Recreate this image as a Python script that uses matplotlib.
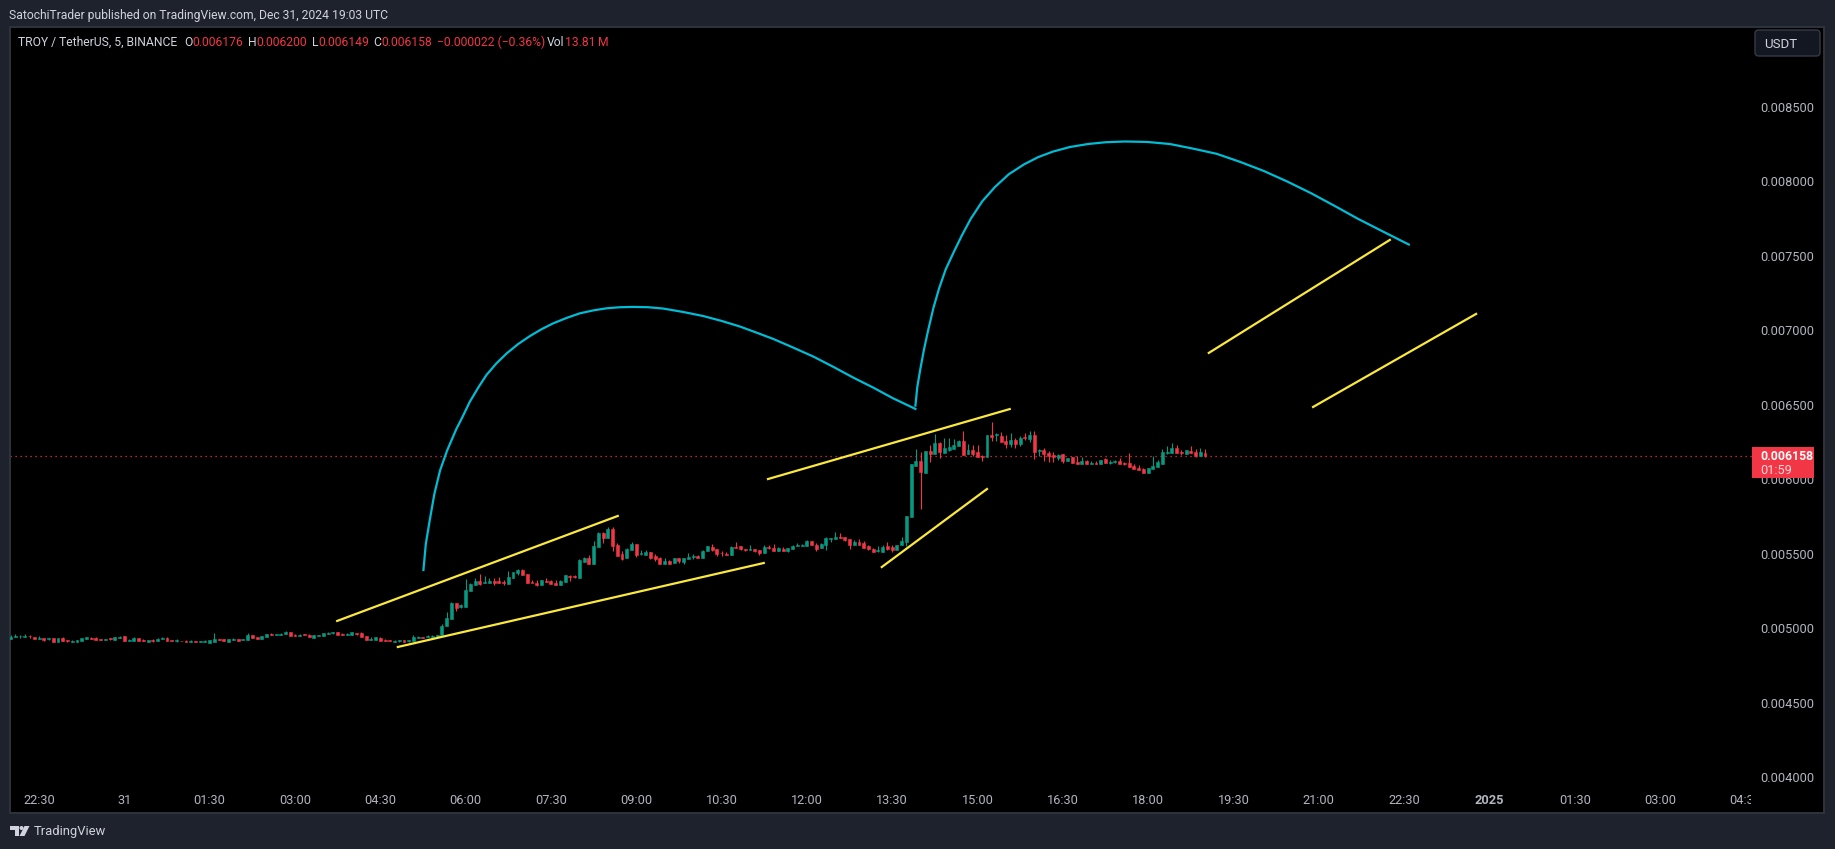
import numpy as np
import matplotlib
matplotlib.use("Agg")
import matplotlib.pyplot as plt
from matplotlib.patches import Rectangle, FancyBboxPatch, Polygon, Ellipse
from matplotlib.transforms import Bbox

# 1. DATA (5 min candles, prices in millionths of USDT)
opens = [
    4929,4942,4945,4942,4949,4940,4929,4931,4926,4933,
    4908,4931,4920,4908,4908,4913,4926,4933,4933,4926,
    4922,4933,4920,4935,4947,4913,4913,4933,4920,4908,
    4920,4913,4926,4933,4920,4913,4915,4915,4908,4913,
    4908,4908,4900,4906,4924,4926,4906,4920,4926,4922,
    4920,4953,4940,4926,4940,4960,4953,4953,4960,4973,
    4953,4947,4958,4953,4933,4949,4947,4960,4967,4973,
    4960,4953,4953,4967,4967,4947,4920,4920,4933,4920,
    4920,4908,4915,4920,4915,4913,4935,4940,4942,4942,
    4937,4951,5014,5061,5168,5143,5141,5249,5289,5316,
    5302,5302,5314,5316,5311,5296,5336,5370,5390,5363,
    5311,5302,5289,5316,5316,5302,5289,5309,5350,5352,
    5336,5444,5470,5430,5544,5638,5605,5665,5558,5497,
    5470,5524,5564,5495,5491,5511,5484,5470,5430,5450,
    5437,5470,5444,5464,5475,5482,5470,5517,5544,5531,
    5506,5497,5491,5544,5551,5529,5524,5531,5524,5504,
    5544,5538,5517,5531,5517,5531,5551,5551,5551,5585,
    5558,5538,5558,5598,5598,5611,5611,5598,5558,5578,
    5571,5551,5531,5517,5511,5551,5544,5524,5558,5578,
    5748,6088,6121,6041,6189,6169,6242,6175,6195,6204,
    6222,6256,6169,6195,6182,6155,6148,6296,6294,6289,
    6256,6236,6263,6236,6280,6269,6296,6191,6195,6175,
    6162,6142,6169,6121,6148,6115,6101,6121,6101,6108,
    6101,6135,6112,6115,6121,6110,6108,6088,6075,6068,
    6041,6068,6081,6101,6175,6175,6209,6182,6169,6189,
    6182,6155,6176]
highs = [
    4951,4960,4955,4960,4955,4940,4947,4931,4931,4933,
    4933,4940,4920,4920,4920,4933,4940,4940,4940,4926,
    4926,4933,4940,4949,4947,4929,4940,4933,4926,4920,
    4926,4933,4940,4940,4920,4926,4915,4920,4922,4913,
    4913,4922,4920,4967,4924,4926,4926,4933,4926,4926,
    4967,4953,4940,4947,4960,4967,4958,4967,4980,4973,
    4960,4960,4958,4960,4953,4953,4967,4973,4971,4973,
    4967,4967,4973,4967,4973,4947,4940,4940,4940,4926,
    4920,4922,4920,4920,4920,4953,4949,4940,4953,4953,
    4953,5027,5108,5175,5168,5164,5329,5302,5336,5363,
    5350,5336,5336,5343,5323,5383,5376,5397,5397,5363,
    5323,5323,5323,5336,5323,5323,5323,5356,5356,5356,
    5464,5477,5491,5585,5645,5645,5679,5679,5571,5517,
    5538,5578,5564,5524,5524,5511,5497,5477,5470,5457,
    5470,5470,5470,5504,5497,5491,5524,5551,5564,5531,
    5515,5511,5551,5578,5551,5529,5558,5531,5524,5558,
    5558,5564,5544,5544,5535,5558,5571,5564,5591,5585,
    5571,5571,5611,5605,5645,5638,5611,5598,5591,5598,
    5585,5558,5538,5551,5558,5578,5558,5558,5611,5753,
    6101,6202,6182,6189,6229,6303,6249,6276,6276,6269,
    6263,6323,6236,6229,6229,6162,6296,6383,6310,6316,
    6296,6310,6276,6289,6310,6323,6323,6202,6209,6189,
    6182,6169,6169,6142,6148,6155,6148,6128,6121,6121,
    6128,6142,6128,6128,6142,6117,6175,6101,6095,6075,
    6075,6155,6128,6202,6222,6243,6229,6195,6195,6222,
    6202,6209,6200]
lows = [
    4929,4942,4935,4942,4935,4929,4929,4913,4920,4908,
    4908,4913,4906,4908,4908,4913,4926,4926,4920,4922,
    4922,4920,4920,4935,4913,4913,4913,4913,4913,4908,
    4906,4913,4926,4913,4913,4906,4913,4908,4908,4908,
    4908,4908,4900,4906,4920,4913,4906,4920,4913,4922,
    4920,4933,4926,4926,4940,4953,4953,4953,4960,4947,
    4947,4947,4953,4940,4933,4949,4947,4960,4960,4953,
    4953,4953,4953,4951,4940,4920,4920,4920,4913,4913,
    4913,4908,4906,4906,4906,4913,4935,4935,4942,4942,
    4937,4951,5014,5061,5114,5135,5141,5249,5289,5289,
    5302,5302,5289,5302,5289,5296,5336,5356,5356,5302,
    5302,5282,5289,5309,5296,5289,5289,5309,5316,5336,
    5336,5444,5430,5430,5544,5571,5605,5517,5484,5457,
    5470,5524,5477,5491,5491,5464,5450,5430,5430,5430,
    5437,5437,5430,5464,5464,5470,5470,5517,5517,5484,
    5486,5493,5491,5538,5524,5517,5524,5511,5491,5504,
    5529,5517,5517,5517,5511,5531,5551,5551,5551,5558,
    5517,5538,5524,5580,5598,5605,5585,5531,5558,5558,
    5538,5524,5511,5511,5511,5524,5511,5524,5558,5551,
    5748,6088,5799,6041,6115,6169,6142,6175,6189,6204,
    6222,6162,6169,6155,6148,6121,6148,6256,6256,6249,
    6209,6215,6209,6222,6263,6249,6135,6155,6121,6115,
    6115,6128,6108,6121,6108,6101,6101,6101,6101,6101,
    6101,6108,6101,6108,6101,6095,6081,6068,6061,6041,
    6041,6068,6081,6101,6169,6175,6175,6162,6169,6175,
    6148,6155,6149]
closes = [
    4942,4947,4949,4947,4945,4929,4933,4922,4931,4908,
    4933,4913,4913,4913,4920,4933,4940,4926,4920,4922,
    4926,4926,4940,4942,4913,4920,4933,4913,4913,4920,
    4913,4926,4933,4913,4913,4920,4913,4908,4915,4908,
    4913,4915,4920,4926,4920,4913,4926,4926,4913,4926,
    4953,4933,4926,4947,4960,4953,4958,4960,4973,4947,
    4947,4953,4953,4940,4953,4953,4967,4967,4971,4953,
    4953,4960,4973,4960,4940,4920,4926,4940,4913,4913,
    4913,4915,4920,4906,4920,4940,4940,4935,4949,4949,
    4953,5014,5067,5168,5135,5152,5255,5296,5316,5296,
    5309,5316,5305,5302,5302,5343,5376,5390,5356,5302,
    5302,5289,5323,5309,5296,5289,5316,5356,5343,5343,
    5457,5470,5430,5551,5638,5605,5665,5551,5484,5464,
    5531,5564,5491,5502,5511,5470,5464,5430,5450,5430,
    5470,5450,5470,5477,5482,5470,5517,5551,5524,5497,
    5502,5493,5544,5538,5531,5524,5531,5517,5504,5544,
    5535,5517,5538,5517,5535,5551,5558,5558,5585,5558,
    5531,5564,5605,5605,5611,5605,5591,5558,5578,5558,
    5538,5531,5511,5524,5544,5531,5524,5558,5585,5753,
    6101,6121,6048,6189,6169,6242,6182,6209,6215,6229,
    6256,6162,6195,6169,6148,6151,6296,6283,6301,6249,
    6236,6263,6236,6276,6274,6296,6182,6198,6169,6155,
    6151,6162,6121,6142,6108,6101,6121,6101,6106,6101,
    6128,6108,6117,6119,6101,6101,6081,6068,6061,6041,
    6075,6088,6115,6182,6182,6209,6175,6175,6195,6175,
    6155,6182,6158]

# time ticks sit every 18 bars
time_ticks = [6,24,42,60,78,96,114,132,150,168,186,204,222,240,258,276,294,312,330,348,366]
time_labels = ["22:30","31","01:30","03:00","04:30","06:00","07:30","09:00","10:30","12:00",
               "13:30","15:00","16:30","18:00","19:30","21:00","22:30","2025","01:30","03:00","04:30"]
price_ticks = [4000,4500,5000,5500,6000,6500,7000,7500,8000,8500]

# Drawings on the chart: bar number, price
trend_lines = [
    ([68.9,128.1],[5048,5753]),
    ([81.7,158.9],[4873,5437]),
    ([159.8,210.8],[6001,6471]),
    ([183.8,206.0],[5410,5934]),
    ([252.8,291.0],[6848,7607]),
    ([274.8,309.2],[6485,7110]),
]
arc1_bars = [87.1,87.6,88.4,89.4,90.6,92.1,94.0,95.2,96.9,98.7,100.4,102.5,104.7,107.1,109.6,112.0,
             114.5,117.3,120.1,123.0,125.8,128.6,131.4,134.5,137.7,141.9,146.1,150.0,153.9,157.4,160.9,165.1,
             169.4,173.6,177.8,182.0,186.2,190.9]
arc1_prices = [5390,5565,5719,5900,6058,6193,6334,6409,6521,6617,6700,6778,6846,6908,6962,7007,
               7047,7083,7114,7134,7148,7155,7157,7155,7146,7123,7096,7063,7025,6984,6942,6884,
               6823,6754,6682,6615,6543,6472]
arc2_bars = [190.9,191.3,191.9,192.7,193.6,194.7,195.9,197.3,199.0,200.7,202.6,205.0,207.7,210.6,213.8,216.8,
             219.9,223.5,227.3,231.0,235.1,239.8,244.6,249.5,254.5,259.5,264.4,269.3,274.3,279.2,284.2,289.5,295.0]
arc2_prices = [6494,6620,6733,6870,7002,7150,7282,7410,7526,7637,7750,7866,7963,8048,8114,8163,
               8200,8231,8251,8263,8268,8265,8251,8220,8185,8130,8070,8000,7922,7838,7750,7664,7576]

last_price = 6158

# 2. STYLE
W, H = 1835, 849
BG = '#1e222d'
BORDER = '#2f333e'
GREEN = '#089981'
RED = '#f23645'
TEXT = '#d1d4dc'
AXTEXT = '#b2b5be'
YELLOW = '#fbe83c'
CYAN = '#00bcd4'

plt.rcParams['font.family'] = 'Roboto'

def fx(px):
    return px / W

def fy(py):
    return 1 - py / H

# 3. FIGURE
fig = plt.figure(figsize=(W / 100, H / 100), dpi=100, facecolor=BG)
ax = fig.add_axes([fx(10), fy(813), fx(1824 - 10), (813 - 27) / H], facecolor='black')
for s in ax.spines.values():
    s.set_color(BORDER)
    s.set_linewidth(1.4)

ax.set_xlim(-0.13, 382.6)
ax.set_ylim(3758, 9037)

# candles
o = np.array(opens)
h = np.array(highs)
l = np.array(lows)
c = np.array(closes)
bars = np.arange(len(o))
colors = [GREEN if cl >= op else RED for op, cl in zip(o, c)]
ax.vlines(bars, l, h, colors=colors, linewidth=0.8, zorder=3)
ax.bar(bars, np.abs(c - o), bottom=np.minimum(o, c), width=0.62, color=colors,
       edgecolor=colors, linewidth=0.4, zorder=3)

# last price line
ax.axhline(last_price, xmax=(1752 - 10) / 1814, color=RED, lw=0.9, ls=(0, (1, 3)), zorder=2)

# drawings
for xs, ys in trend_lines:
    ax.plot(xs, ys, color=YELLOW, lw=1.6, zorder=5)
ax.plot(arc1_bars, arc1_prices, color=CYAN, lw=1.6, zorder=5)
ax.plot(arc2_bars, arc2_prices, color=CYAN, lw=1.6, zorder=5)

# axes labels live inside the pane
ax.yaxis.tick_right()
ax.set_yticks(price_ticks)
ax.set_yticklabels([f"{p / 1e6:.6f}" for p in price_ticks])
ax.tick_params(axis='y', length=0, pad=-46, labelsize=9.2, labelcolor=AXTEXT)
ax.set_xticks(time_ticks)
ax.set_xticklabels(time_labels)
ax.tick_params(axis='x', length=0, pad=-14, labelsize=9.2, labelcolor=AXTEXT)
for lab in ax.get_xticklabels():
    if lab.get_text() == "2025":
        lab.set_fontweight('bold')
    lab.set_clip_box(Bbox([[0, 0], [1751, H]]))
    lab.set_clip_on(True)

# header
fig.text(fx(9), fy(15), "SatochiTrader published on TradingView.com, Dec 31, 2024 19:03 UTC",
         color=TEXT, fontsize=8.7, va='center')

legend_bits = [
    (18, "TROY / TetherUS, 5, BINANCE", TEXT),
    (184, "O", TEXT), (192.5, "0.006176", RED),
    (248, "H", TEXT), (256, "0.006200", RED),
    (312, "L", TEXT), (318, "0.006149", RED),
    (373, "C", TEXT), (381.5, "0.006158", RED),
    (437, "\u22120.000022 (\u22120.36%)", RED),
    (547, "Vol", TEXT), (565, "13.81\u2009M", RED),
]
for px, txt, col in legend_bits:
    fig.text(fx(px), fy(42), txt, color=col, fontsize=8.7, va='center')

# USDT button
fig.add_artist(FancyBboxPatch((fx(1755), fy(56)), fx(65), 26 / H,
                              boxstyle="round,pad=0,rounding_size=0.002", mutation_aspect=W / H,
                              facecolor='#131722', edgecolor='#363a45', lw=1,
                              transform=fig.transFigure, zorder=3))
fig.text(fx(1764), fy(44), "USDT", color=TEXT, fontsize=9.5, va='center', zorder=4)

# last price tag
fig.add_artist(Rectangle((fx(1752), fy(478)), fx(62), 31 / H, facecolor=RED, edgecolor='none',
                         transform=fig.transFigure, zorder=3))
fig.text(fx(1760), fy(456), f"{last_price / 1e6:.6f}", color='white', fontsize=8.8,
         fontweight='bold', va='center', zorder=4)
fig.text(fx(1760), fy(470), "01:59", color='#fdd7da', fontsize=9.2, va='center', zorder=4)

# footer logo and name
logo = '#d1d4dc'
fig.add_artist(Polygon([(fx(10), fy(826)), (fx(19), fy(826)), (fx(19), fy(836)), (fx(15), fy(836)),
                        (fx(15), fy(830)), (fx(10), fy(830))],
                       closed=True, facecolor=logo, edgecolor='none', transform=fig.transFigure, zorder=3))
fig.add_artist(Ellipse((fx(21.5), fy(828)), 4 / W, 4 / H, facecolor=logo, edgecolor='none',
                       transform=fig.transFigure, zorder=3))
fig.add_artist(Polygon([(fx(24.5), fy(826)), (fx(29.5), fy(826)), (fx(24.5), fy(836)), (fx(19.5), fy(836))],
                       closed=True, facecolor=logo, edgecolor='none', transform=fig.transFigure, zorder=3))
fig.text(fx(34), fy(831), "TradingView", color=TEXT, fontsize=9.4, va='center')

fig.savefig('out.png', dpi=100, facecolor=BG)
